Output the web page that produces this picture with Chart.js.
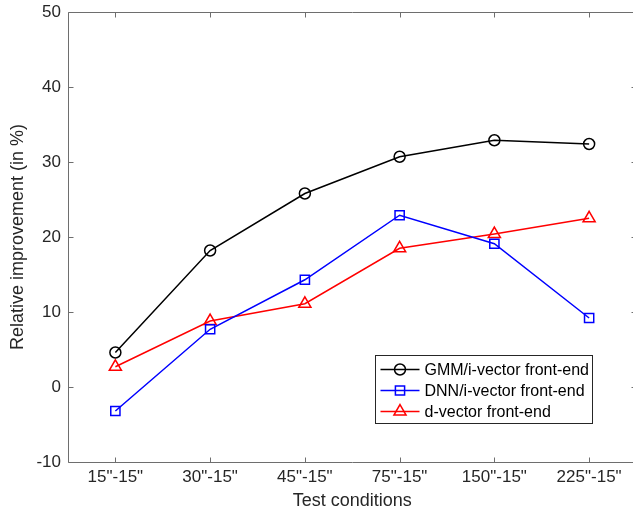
<!DOCTYPE html>
<html>
<head>
<meta charset="utf-8">
<script src="https://cdn.jsdelivr.net/npm/chart.js@4/dist/chart.umd.min.js"></script>
<style>
html,body{margin:0;padding:0;background:#fff;overflow:hidden;}
#wrap{width:633px;height:512px;overflow:hidden;position:relative;}
#c{position:absolute;left:0;top:0;}
</style>
</head>
<body>
<div id="wrap"><canvas id="c" width="645" height="512"></canvas></div>
<script>
const categories = ['15"-15"', '30"-15"', '45"-15"', '75"-15"', '150"-15"', '225"-15"'];
const gmmIvector = [4.6, 18.2, 25.8, 30.7, 32.9, 32.4];
const dnnIvector = [-3.2, 7.7, 14.3, 22.9, 19.1, 9.2];
const dVector = [2.7, 8.8, 11.1, 18.5, 20.4, 22.5];
const yTicks = [-10, 0, 10, 20, 30, 40, 50];

const FONT = "'Liberation Sans', Arial, Helvetica, sans-serif";
const AXIS_COLOR = '#6e6e6e';
const TEXT_COLOR = '#262626';

const boxPlugin = {
  id: 'boxPlugin',
  afterDraw(chart) {
    const ctx = chart.ctx, ca = chart.chartArea;
    const xs = chart.scales.x, ys = chart.scales.y;
    const L = Math.round(ca.left) + 0.5, R = Math.round(ca.right) - 0.5;
    const T = Math.round(ca.top) + 0.5, B = Math.round(ca.bottom) + 0.5;
    ctx.save();
    ctx.strokeStyle = AXIS_COLOR;
    ctx.lineWidth = 1;
    ctx.beginPath();
    ctx.rect(L, T, R - L, B - T);
    const tl = 5;
    categories.forEach((c, i) => {
      const px = Math.round(xs.getPixelForValue(i)) + 0.5;
      ctx.moveTo(px, B); ctx.lineTo(px, B - tl);
      ctx.moveTo(px, T); ctx.lineTo(px, T + tl);
    });
    yTicks.forEach(v => {
      const py = Math.round(ys.getPixelForValue(v)) + 0.5;
      ctx.moveTo(L, py); ctx.lineTo(L + tl, py);
      ctx.moveTo(R, py); ctx.lineTo(R - tl, py);
    });
    ctx.stroke();

    // legend
    const bx = Math.round(ca.left + 307) + 0.5, by = Math.round(ca.top + 343) + 0.5;
    const bw = 217, bh = 68;
    ctx.fillStyle = '#fff';
    ctx.fillRect(bx, by, bw, bh);
    ctx.strokeStyle = '#262626';
    ctx.lineWidth = 1;
    ctx.strokeRect(bx, by, bw, bh);
    ctx.font = '16px ' + FONT;
    ctx.textBaseline = 'middle';
    chart.data.datasets.forEach((ds, i) => {
      const ry = by + 14 + i * 21;
      const x0 = bx + 5, x1 = bx + 44;
      ctx.strokeStyle = ds.borderColor;
      ctx.lineWidth = ds.borderWidth;
      ctx.beginPath(); ctx.moveTo(x0, ry); ctx.lineTo(x1, ry); ctx.stroke();
      ctx.fillStyle = 'rgba(0,0,0,0)';
      ctx.strokeStyle = ds.borderColor;
      Chart.helpers.drawPoint(ctx, {
        pointStyle: ds.pointStyle, radius: ds.pointRadius, borderWidth: ds.pointBorderWidth
      }, (x0 + x1) / 2, ry);
      ctx.fillStyle = '#000';
      ctx.fillText(ds.label, bx + 49, ry + 1);
    });
    ctx.restore();
  }
};

function mkds(label, data, color, style, r) {
  return {
    label, data,
    borderColor: color, backgroundColor: 'rgba(0,0,0,0)',
    borderWidth: 1.5,
    pointStyle: style, pointRadius: r, pointHoverRadius: r,
    pointBorderColor: color, pointBackgroundColor: 'rgba(0,0,0,0)',
    pointBorderWidth: 1.5,
    tension: 0, fill: false
  };
}

new Chart(document.getElementById('c'), {
  type: 'line',
  data: {
    labels: categories,
    datasets: [
      mkds('GMM/i-vector front-end', gmmIvector, '#000000', 'circle', 5.5),
      mkds('DNN/i-vector front-end', dnnIvector, '#0000ff', 'rect', 6.5),
      mkds('d-vector front-end', dVector, '#ff0000', 'triangle', 7)
    ]
  },
  options: {
    responsive: false,
    animation: false,
    devicePixelRatio: 1,
    layout: { padding: { top: 12, right: 0, left: 0, bottom: 0 } },
    plugins: { legend: { display: false }, tooltip: { enabled: false } },
    scales: {
      x: {
        type: 'category',
        offset: true,
        grid: { display: false, drawTicks: false },
        border: { display: false },
        ticks: { color: TEXT_COLOR, font: { family: FONT, size: 17 }, padding: 5, maxRotation: 0, autoSkip: false },
        title: { display: true, text: 'Test conditions', color: TEXT_COLOR, font: { family: FONT, size: 18 }, padding: { top: 2, bottom: 0 } },
        afterFit(s) { s.height = 50; s.paddingLeft = 0; s.paddingRight = 0; s.paddingTop = 0; s.paddingBottom = 0; }
      },
      y: {
        min: -10, max: 50,
        grid: { display: false, drawTicks: false },
        border: { display: false },
        ticks: { stepSize: 10, color: TEXT_COLOR, font: { family: FONT, size: 17 }, padding: 7 },
        title: { display: true, text: 'Relative improvement (in %)', color: TEXT_COLOR, font: { family: FONT, size: 18 }, padding: { top: 7, bottom: 0 } },
        afterFit(s) { s.width = 68; s.paddingLeft = 0; s.paddingRight = 0; s.paddingTop = 0; s.paddingBottom = 0; }
      }
    }
  },
  plugins: [boxPlugin]
});
</script>
</body>
</html>
